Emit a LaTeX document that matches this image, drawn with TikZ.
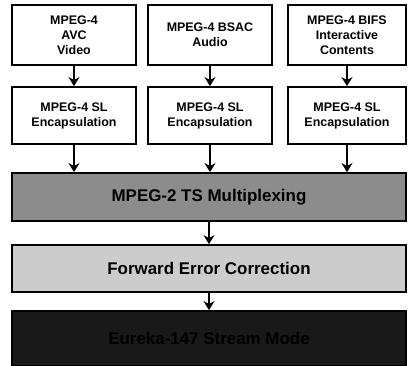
\documentclass[tikz,border=0pt]{standalone}
\usepackage{fontspec}
\setmainfont{Liberation Sans}
\usetikzlibrary{arrows.meta,positioning}

\begin{document}
\begin{tikzpicture}[x=1bp,y=1bp,
    box/.style={draw=black,line width=1.8bp,fill=white,align=center,
      font=\bfseries\fontsize{12.5}{15}\selectfont,inner sep=0pt},
    layer/.style={draw=black,line width=1.8bp,minimum width=394bp,
      font=\bfseries\fontsize{17}{20}\selectfont,inner sep=0pt},
    flow/.style={line width=2bp,-{Stealth[length=9bp,width=11bp]}}]

        % Fix the page size
        \useasboundingbox (0,0) rectangle (408,366);

        % Define parameters
        \def\srch{60}     % Height of the source boxes
        \def\ench{57}     % Height of the SL boxes

        % Draw the three stacked layers
        \node[layer, fill=black!45, minimum height=48bp] (mux) at (209,169) {MPEG-2 TS Multiplexing};
        \node[layer, fill=black!20, minimum height=47bp] (fec) at (209,97.5) {Forward Error Correction};
        \node[layer, fill=black!90, minimum height=55bp, text=black] (dab) at (209,27.5) {Eureka-147 Stream Mode};

        % Draw the three media columns
        \foreach \i/\x/\w/\txt in {1/74/124/{MPEG-4\\AVC\\Video},
                                   2/210/124/{MPEG-4 BSAC\\Audio},
                                   3/347/118/{MPEG-4 BIFS\\Interactive\\Contents}} {
            % Source box and its SL encapsulation
            \node[box, minimum width=\w bp, minimum height=\srch bp] (src\i) at (\x,331) {\txt};
            \node[box, minimum width=\w bp, minimum height=\ench bp] (enc\i) at (\x,250.5) {MPEG-4 SL\\Encapsulation};

            % Connect them down to the multiplexer
            \draw[flow] (src\i) -- (enc\i);
            \draw[flow] (enc\i) -- (enc\i |- mux.north);
        }

        % Connect the layers
        \draw[flow] (mux) -- (fec);
        \draw[flow] (fec) -- (dab);

    \end{tikzpicture}
\end{document}
